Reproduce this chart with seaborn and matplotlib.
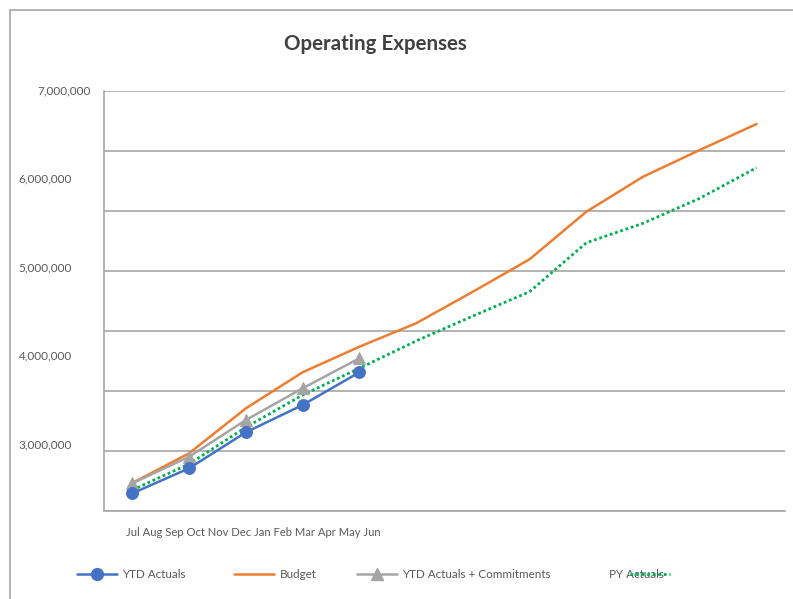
import numpy as np
import pandas as pd
import matplotlib
matplotlib.use("Agg")
import matplotlib.pyplot as plt
from matplotlib.lines import Line2D
from matplotlib.patches import Rectangle
import seaborn as sns

# ---- data ----
months = ["Jul", "Aug", "Sep", "Oct", "Nov", "Dec",
          "Jan", "Feb", "Mar", "Apr", "May", "Jun"]
ytd_actuals = [2450000, 2733000, 3140000, 3449000, 3819000]
ytd_commit = [2563000, 2864000, 3279000, 3638000, 3977000]
budget = [2567000, 2903000, 3411000, 3819000, 4108000, 4373000,
          4730000, 5097000, 5635000, 6031000, 6333000, 6627000]
py_actuals = [2488000, 2782000, 3197000, 3562000, 3864000, 4173000,
              4455000, 4730000, 5284000, 5504000, 5787000, 6133000]
y_labels = [3000000, 4000000, 5000000, 6000000, 7000000]
legend_names = ["YTD Actuals", "Budget", "YTD Actuals + Commitments", "PY Actuals"]

BLUE, ORANGE, GRAY, GREEN = "#4472C4", "#ED7D31", "#A5A5A5", "#00B050"
TXT = "#595959"

sns.set_style("white")
plt.rcParams["font.family"] = ["Lato", "DejaVu Sans"]

fig = plt.figure(figsize=(7.93, 5.99), dpi=100)
ax = fig.add_axes([104 / 793, 88 / 599, 681 / 793, 420 / 599])

# chart border (only left/top visible in the original)
fig.patches.append(Rectangle((10 / 793, -0.2), 1.5, 0.2 + 589 / 599, transform=fig.transFigure,
                             fill=False, edgecolor="#A6A6A6", linewidth=1.2, clip_on=False))

pos = {m: i for i, m in enumerate(months)}
df_full = pd.DataFrame({"x": [pos[m] for m in months], "budget": budget, "py": py_actuals})
df_ytd = pd.DataFrame({"x": [pos[m] for m in months[:len(ytd_actuals)]],
                       "act": ytd_actuals, "com": ytd_commit})

sns.lineplot(data=df_full, x="x", y="budget", color=ORANGE, linewidth=1.8, ax=ax, legend=False)
sns.lineplot(data=df_full, x="x", y="py", color=GREEN, linewidth=2.0,
             linestyle=(0, (1, 1)), ax=ax, legend=False)
sns.lineplot(data=df_ytd, x="x", y="com", color=GRAY, linewidth=1.8, marker="^",
             markersize=9, markeredgecolor=GRAY, ax=ax, legend=False)
sns.lineplot(data=df_ytd, x="x", y="act", color=BLUE, linewidth=1.8, marker="o",
             markersize=8.5, markeredgecolor=BLUE, ax=ax, legend=False)

ymin, ymax = 2250000, 7000000
ax.set_xlim(-0.5, len(months) - 0.5)
ax.set_ylim(ymin, ymax)
ax.set_xlabel("")
ax.set_ylabel("")

# gridlines (8 evenly spaced lines), labels placed separately as in the original
ax.set_yticks(np.linspace(ymin, ymax, 8))
ax.set_yticklabels([])
ax.set_xticks(np.arange(-0.5, len(months), 1.0))
ax.set_xticklabels([])
ax.grid(axis="y", color="#A6A6A6", linewidth=1.2)
ax.tick_params(axis="y", length=4, width=1, color="#A6A6A6", direction="out")
ax.tick_params(axis="x", length=5, width=1, color="#A6A6A6", direction="out")
for s in ["top", "right"]:
    ax.spines[s].set_visible(False)
for s in ["left", "bottom"]:
    ax.spines[s].set_color("#A6A6A6")
    ax.spines[s].set_linewidth(1.2)

ytr = ax.get_yaxis_transform()
for v in y_labels:
    xr = -0.019 if v == max(y_labels) else -0.047
    ax.text(xr, v, f"{v:,.0f}", transform=ytr, ha="right", va="center",
            fontsize=8.5, color=TXT)

ax.text(0.219, -0.052, " ".join(months), transform=ax.transAxes, ha="center",
        va="center", fontsize=8.1, color=TXT)

fig.text(375 / 793, 1 - 44 / 599, "Operating Expenses", ha="center", va="center",
         fontsize=14.8, fontweight="bold", color="#404040")

# legend, one block per entry like the original layout
handles = [
    Line2D([], [], color=BLUE, lw=1.8, marker="o", markersize=8.5, markeredgecolor=BLUE),
    Line2D([], [], color=ORANGE, lw=1.8),
    Line2D([], [], color=GRAY, lw=1.8, marker="^", markersize=9, markeredgecolor=GRAY),
    Line2D([], [], color=GREEN, lw=2.0, linestyle=(0, (1, 1))),
]
starts = [77, 234, 357, 609]
for i, (h, name) in enumerate(zip(handles, legend_names)):
    last = i == len(handles) - 1
    lg = fig.legend([h], [name], loc="center left", bbox_to_anchor=(starts[i] / 793, 24 / 599),
                    frameon=False, fontsize=8.4, handlelength=3.4, borderpad=0,
                    borderaxespad=0, markerfirst=not last,
                    handletextpad=-2.9 if last else 0.5, labelcolor=TXT)

fig.savefig("out.png", dpi=100)
